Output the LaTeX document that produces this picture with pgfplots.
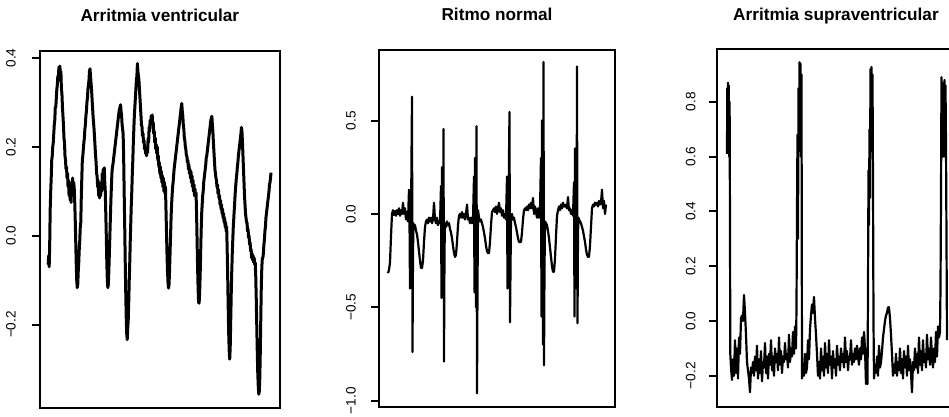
\documentclass[border=0pt]{standalone}
\usepackage{fontspec}
\setmainfont{Liberation Sans}
\usepackage{pgfplots}
\pgfplotsset{compat=1.18}
\pgfplotsset{
  ecg/.style={
    scale only axis,
    axis line style={line width=1pt},
    xtick=\empty,
    ytick pos=left,
    tick align=outside,
    major tick length=4pt,
    major tick style={line width=1pt, black},
    yticklabel style={rotate=90, anchor=south, inner sep=0pt, font=\fontsize{6.8}{8}\selectfont},
    title style={at={(0.5,1)}, anchor=base, inner sep=0pt, font=\bfseries\fontsize{8.6}{10}\selectfont},
  },
  trace/.style={black, line width=1.1pt, line join=round, mark=none},
}
\begin{document}
\begin{tikzpicture}
% ---------- Panel 1 ----------
\begin{axis}[ecg,
  at={(20pt,4.5pt)}, anchor=south west,
  width=117.5pt, height=178.5pt,
  xmin=40, xmax=275, ymin=-0.388, ymax=0.416,
  ytick={-0.2,0,0.2,0.4}, yticklabels={−0.2,0.0,0.2,0.4},
  yticklabel shift=7.9pt,
  title={Arritmia ventricular}, title style={yshift=8.75pt}]
\addplot[trace, line width=1.5pt] table {
x y
48 -0.065
48.5 -0.045
49 -0.07
49.5 -0.02
50 0.06
50.5 0.10
51 0.13
51.5 0.17
52 0.18
52.5 0.20
53 0.21
53.5 0.23
54 0.25
54.5 0.26
55 0.29
55.5 0.29
56 0.31
56.5 0.33
57 0.34
57.5 0.36
58 0.35
58.5 0.38
59 0.36
59.5 0.382
60 0.36
60.5 0.37
61 0.33
61.5 0.32
62 0.29
62.5 0.27
63 0.25
63.5 0.22
64 0.21
64.5 0.18
65 0.17
65.5 0.15
66 0.155
66.5 0.13
67 0.14
67.5 0.11
68 0.125
68.5 0.09
69 0.12
69.5 0.08
70 0.11
70.5 0.075
71 0.12
71.5 0.09
72 0.13
72.5 0.10
73 0.12
73.5 0.11
74 0.08
74.5 0.04
75 -0.01
75.5 -0.06
76 -0.10
76.5 -0.117
77 -0.11
77.5 -0.08
78 -0.06
78.5 -0.03
79 -0.01
79.5 0.02
80 0.03
80.5 0.09
81 0.13
81.5 0.17
82 0.18
83 0.21
83.5 0.22
84 0.24
84.5 0.25
85 0.27
85.5 0.28
86 0.30
86.5 0.31
87 0.33
87.5 0.34
88 0.35
88.5 0.37
89 0.376
89.5 0.36
90 0.345
90.5 0.33
91 0.31
91.5 0.29
92 0.27
92.5 0.255
93 0.24
93.5 0.22
94 0.20
94.5 0.18
95 0.165
95.5 0.14
96 0.135
96.5 0.11
97 0.125
97.5 0.09
98 0.11
98.5 0.085
99 0.10
99.5 0.09
100 0.12
100.5 0.10
101 0.14
101.5 0.12
102 0.15
102.5 0.13
103 0.153
103.5 0.12
104 0.10
104.5 0.05
105 0.0
105.5 -0.06
106 -0.10
106.5 -0.117
107 -0.11
107.5 -0.08
108 -0.04
108.5 0.0
109 0.04
109.5 0.08
110 0.11
110.5 0.14
111 0.155
111.5 0.16
112 0.17
112.5 0.18
113 0.19
113.5 0.20
114 0.21
114.5 0.22
115 0.23
115.5 0.24
116 0.25
116.5 0.26
117 0.27
117.5 0.28
118 0.285
118.5 0.29
119 0.295
119.5 0.28
120 0.27
120.5 0.25
121 0.24
121.5 0.23
122 0.18
122.5 0.10
123 0.03
123.5 -0.05
124 -0.12
124.5 -0.18
125 -0.22
125.5 -0.234
126 -0.21
126.5 -0.19
127 -0.15
127.5 -0.10
128 -0.06
128.5 -0.01
129 0.03
129.5 0.07
130 0.10
130.5 0.14
131 0.17
131.5 0.21
132 0.24
132.5 0.27
133 0.29
133.5 0.31
134 0.33
134.5 0.35
135 0.36
135.5 0.388
136 0.37
136.5 0.36
137 0.35
137.5 0.33
138 0.31
138.5 0.29
139 0.27
139.5 0.25
140 0.245
140.5 0.225
141 0.23
141.5 0.21
142 0.215
142.5 0.195
143 0.20
143.5 0.185
144 0.19
144.5 0.18
145 0.20
145.5 0.187
146 0.22
146.5 0.21
147 0.245
147.5 0.235
148 0.26
148.5 0.25
149 0.27
149.5 0.255
150 0.272
150.5 0.25
151 0.255
151.5 0.23
152 0.235
152.5 0.21
153 0.22
153.5 0.195
154 0.205
154.5 0.185
155 0.20
155.5 0.17
156 0.18
156.5 0.155
157 0.165
157.5 0.14
158 0.155
158.5 0.13
159 0.145
159.5 0.12
160 0.135
160.5 0.11
161 0.13
161.5 0.10
162 0.12
162.5 0.095
163 0.11
163.5 0.06
164 0.01
164.5 -0.04
165 -0.08
165.5 -0.105
166 -0.118
166.5 -0.11
167 -0.08
167.5 -0.04
168 0.0
168.5 0.04
169 0.07
169.5 0.09
170 0.11
170.5 0.12
171 0.135
171.5 0.15
172 0.16
172.5 0.17
173 0.18
173.5 0.19
174 0.20
174.5 0.21
175 0.22
175.5 0.23
176 0.24
176.5 0.25
177 0.26
177.5 0.27
178 0.28
178.5 0.29
179 0.298
179.5 0.28
180 0.27
180.5 0.25
181 0.24
181.5 0.22
182 0.215
182.5 0.20
183 0.195
183.5 0.18
184 0.18
184.5 0.165
185 0.17
185.5 0.15
186 0.16
186.5 0.14
187 0.15
187.5 0.13
188 0.145
188.5 0.12
189 0.135
189.5 0.11
190 0.125
190.5 0.10
191 0.115
191.5 0.09
192 0.105
192.5 0.09
193 0.097
193.5 0.05
194 -0.01
194.5 -0.07
195 -0.12
195.5 -0.15
196 -0.152
196.5 -0.13
197 -0.09
197.5 -0.04
198 0.01
198.5 0.05
199 0.07
199.5 0.09
200 0.10
200.5 0.12
201 0.13
201.5 0.14
202 0.15
202.5 0.16
203 0.175
203.5 0.18
204 0.19
204.5 0.20
205 0.21
205.5 0.22
206 0.23
206.5 0.24
207 0.25
207.5 0.26
208 0.265
208.5 0.269
209 0.25
209.5 0.235
210 0.21
210.5 0.19
211 0.17
211.5 0.15
212 0.14
212.5 0.13
213 0.125
213.5 0.11
214 0.115
214.5 0.095
215 0.104
215.5 0.085
216 0.09
216.5 0.07
217 0.08
217.5 0.06
218 0.07
218.5 0.05
219 0.06
219.5 0.04
220 0.05
220.5 0.03
221 0.04
221.5 0.02
222 0.03
222.5 0.01
223 0.02
223.5 -0.03
224 -0.09
224.5 -0.16
225 -0.22
225.5 -0.26
226 -0.278
226.5 -0.25
227 -0.19
227.5 -0.13
228 -0.08
228.5 -0.04
229 -0.01
229.5 0.02
230 0.04
230.5 0.06
231 0.08
231.5 0.10
232 0.115
232.5 0.13
233 0.14
233.5 0.155
234 0.165
234.5 0.18
235 0.19
235.5 0.20
236 0.21
236.5 0.22
237 0.23
237.5 0.244
238 0.235
238.5 0.21
239 0.18
239.5 0.15
240 0.12
240.5 0.09
241 0.07
241.5 0.05
242 0.04
242.5 0.03
243 0.029
243.5 0.01
244 0.015
244.5 -0.005
245 0.0
245.5 -0.02
246 -0.015
246.5 -0.035
247 -0.03
247.5 -0.05
248 -0.04
248.5 -0.055
249 -0.045
249.5 -0.06
250 -0.05
250.5 -0.065
251 -0.06
251.5 -0.09
252 -0.14
252.5 -0.20
253 -0.26
253.5 -0.31
254 -0.34
254.5 -0.357
255 -0.35
255.5 -0.32
256 -0.26
256.5 -0.18
257 -0.11
257.5 -0.07
258 -0.05
258.5 -0.05
259 -0.04
259.5 -0.02
260 -0.01
260.5 0.01
261 0.02
261.5 0.04
262 0.05
262.5 0.06
263 0.07
263.5 0.08
264 0.09
264.5 0.10
265 0.115
265.5 0.12
266 0.13
266.5 0.142
};
\end{axis}
% ---------- Panel 2 ----------
\begin{axis}[ecg,
  at={(189.5pt,5pt)}, anchor=south west,
  width=118pt, height=178.5pt,
  xmin=379, xmax=615, ymin=-1.034, ymax=0.878,
  ytick={-1,-0.5,0,0.5}, yticklabels={−1.0,−0.5,0.0,0.5},
  yticklabel shift=7.4pt,
  title={Ritmo normal}, title style={yshift=8.6pt}]
\addplot[trace] table {
x y
388 -0.317
389 -0.30
390 -0.26
391 -0.12
392 0.0
393 0.02
394 -0.005
395 0.015
396 -0.01
397 0.02
398 0.0
399 0.03
400 -0.01
401 0.02
402 0.0
403 0.06
404 0.0
405 0.03
406 -0.03
407 0.01
408 -0.04
409 0.13
409.5 -0.03
410 -0.4
410.5 0.1
411 -0.06
411.5 0.3
412 0.628
412.5 -0.74
413 -0.2
413.5 -0.05
414 -0.07
415 -0.06
416 -0.09
417 -0.11
418 -0.15
419 -0.20
420 -0.25
421 -0.29
422 -0.29
423 -0.25
424 -0.15
425 -0.07
426 -0.04
427 -0.03
428 -0.05
429 -0.02
430 -0.04
431 -0.02
432 -0.05
433 -0.03
434 0.06
435 -0.03
436 -0.05
437 -0.02
438 -0.06
439 -0.04
440 -0.05
441 0.15
441.5 -0.45
442 0.25
442.5 -0.1
443 -0.3
443.5 0.455
444 -0.79
444.5 -0.2
445 -0.05
446 -0.07
447 -0.04
448 -0.06
449 -0.05
450 -0.08
451 -0.10
452 -0.13
453 -0.17
454 -0.21
455 -0.23
456 -0.22
457 -0.15
458 -0.06
459 -0.01
460 0.0
461 -0.02
462 0.01
463 -0.02
464 0.0
465 -0.03
466 0.0
467 0.05
468 -0.03
469 -0.02
470 -0.05
471 -0.02
472 -0.05
473 -0.03
474 0.2
474.5 -0.42
475 0.3
475.5 -0.1
476 -0.5
476.5 0.47
477 -0.96
477.5 -0.4
478 0.02
479 -0.02
480 -0.04
481 -0.03
482 -0.05
483 -0.07
484 -0.10
485 -0.13
486 -0.17
487 -0.20
488 -0.21
489 -0.21
490 -0.15
491 -0.06
492 0.01
493 0.02
494 0.03
495 0.01
496 0.04
497 0.0
498 0.03
499 0.06
500 0.01
501 0.03
502 -0.01
503 0.02
504 -0.02
505 0.0
506 -0.03
507 0.2
507.5 -0.4
508 0.15
508.5 -0.3
509 0.3
509.5 0.546
510 -0.58
510.5 -0.3
511 -0.02
512 0.0
513 -0.03
514 -0.02
515 -0.05
516 -0.07
517 -0.10
518 -0.13
519 -0.15
520 -0.15
521 -0.15
522 -0.10
523 -0.03
524 0.02
525 0.03
526 0.02
527 0.04
528 0.02
529 0.05
530 0.03
531 0.06
532 0.03
533 0.085
534 0.0
535 0.04
536 0.01
537 -0.02
538 0.03
539 -0.02
540 0.02
541 0.3
541.5 -0.55
542 0.5
542.5 -0.2
543 -0.7
543.5 0.814
544 -0.81
544.5 -0.3
545 -0.04
546 -0.05
547 -0.06
548 -0.09
549 -0.13
550 -0.18
551 -0.23
552 -0.28
553 -0.31
554 -0.31
555 -0.24
556 -0.12
557 -0.01
558 0.02
559 0.04
560 0.02
561 0.05
562 0.03
563 0.06
564 0.04
565 0.04
566 0.05
567 0.03
568 0.09
569 0.02
570 0.03
571 0.0
572 0.02
573 -0.01
574 0.17
574.5 -0.55
575 0.35
575.5 -0.2
576 0.1
576.5 -0.4
577 0.79
577.5 -0.585
578 -0.1
578.5 -0.02
579 -0.03
580 -0.04
581 -0.05
582 -0.07
583 -0.09
584 -0.12
585 -0.15
586 -0.19
587 -0.22
588 -0.23
589 -0.23
590 -0.17
591 -0.07
592 0.03
593 0.05
594 0.04
595 0.06
596 0.05
597 0.06
598 0.04
599 0.07
600 0.05
601 0.06
602 0.13
603 0.03
604 0.07
605 0.0
606 0.05
};
\end{axis}
% ---------- Panel 3 ----------
\begin{axis}[ecg,
  at={(358.5pt,5pt)}, anchor=south west,
  width=119pt, height=179pt,
  xmin=717, xmax=955, ymin=-0.314, ymax=0.993,
  ytick={-0.2,0,0.2,0.4,0.6,0.8}, yticklabels={−0.2,0.0,0.2,0.4,0.6,0.8},
  yticklabel shift=6.5pt,
  title={Arritmia supraventricular}, title style={yshift=8.2pt}]
\addplot[trace] table {
x y
727 0.61
727.3 0.85
727.6 0.62
728 0.87
728.4 0.63
728.8 0.86
729.2 0.60
729.6 0.80
730 0.34
730.3 -0.12
731 -0.17
732 -0.215
733 -0.14
734 -0.20
735 -0.07
736 -0.19
737 -0.10
738 -0.21
739 -0.06
740 -0.12
741 0.01
742 0.02
743 0.00
744 0.095
745 0.03
746 -0.05
747 -0.15
748 -0.18
749 -0.21
750 -0.26
751 -0.17
752 -0.19
753 -0.15
754 -0.20
755 -0.13
756 -0.18
757 -0.09
758 -0.21
759 -0.14
760 -0.19
761 -0.11
762 -0.22
763 -0.15
764 -0.17
765 -0.08
766 -0.19
767 -0.13
768 -0.21
769 -0.12
770 -0.16
771 -0.07
772 -0.18
773 -0.13
774 -0.20
775 -0.10
776 -0.15
777 -0.12
778 -0.18
779 -0.06
780 -0.16
781 -0.11
782 -0.19
783 -0.13
784 -0.15
785 -0.08
786 -0.14
787 -0.12
788 -0.17
789 -0.05
790 -0.15
791 -0.10
792 -0.13
793 -0.04
794 -0.12
795 -0.02
796 -0.10
796.5 0.05
797 0.40
797.5 0.68
798 0.30
798.5 0.85
799 0.62
799.5 0.945
800 0.68
800.5 0.94
801 0.60
801.5 0.90
802 -0.21
803 -0.16
804 -0.20
805 -0.12
806 -0.19
807 -0.17
808 -0.07
809 -0.14
810 -0.03
811 0.02
812 0.06
813 0.03
814 0.088
815 0.01
816 -0.05
817 -0.12
818 -0.20
819 -0.15
820 -0.21
821 -0.10
822 -0.18
823 -0.13
824 -0.20
825 -0.08
826 -0.17
827 -0.12
828 -0.19
829 -0.07
830 -0.16
831 -0.13
832 -0.21
833 -0.11
834 -0.17
835 -0.14
836 -0.20
837 -0.09
838 -0.16
839 -0.13
840 -0.18
841 -0.10
842 -0.15
843 -0.12
844 -0.17
845 -0.06
846 -0.15
847 -0.11
848 -0.18
849 -0.13
850 -0.14
851 -0.07
852 -0.16
853 -0.12
854 -0.15
855 -0.10
856 -0.14
857 -0.09
858 -0.13
859 -0.16
860 -0.10
861 -0.14
862 -0.06
863 -0.12
864 -0.04
865 -0.10
866 -0.23
867 -0.10
867.5 -0.23
868 0.10
868.5 0.55
869 0.35
869.5 0.70
870 0.45
870.5 0.92
871 0.66
871.5 0.927
872 0.62
872.5 0.90
873 0.50
873.5 0.0
874 -0.21
875 -0.16
876 -0.19
877 -0.13
878 -0.20
879 -0.09
880 -0.17
881 -0.15
882 -0.11
883 -0.06
884 -0.03
885 0.0
886 0.02
887 0.03
888 0.05
889 0.05
890 0.01
891 -0.05
892 -0.12
893 -0.20
894 -0.16
895 -0.19
896 -0.12
897 -0.20
898 -0.15
899 -0.18
900 -0.10
901 -0.19
902 -0.14
903 -0.21
904 -0.11
905 -0.17
906 -0.13
907 -0.20
908 -0.09
909 -0.18
910 -0.14
911 -0.19
912 -0.26
913 -0.15
914 -0.18
915 -0.10
916 -0.17
917 -0.12
918 -0.19
919 -0.06
920 -0.16
921 -0.11
922 -0.18
923 -0.07
924 -0.15
925 -0.12
926 -0.17
927 -0.05
928 -0.14
929 -0.10
930 -0.16
931 -0.06
932 -0.13
933 -0.17
934 -0.10
935 -0.15
936 -0.04
937 -0.13
938 -0.02
939 -0.06
940 -0.04
940.5 0.12
941 0.45
941.5 0.89
942 0.62
942.5 0.87
943 0.60
943.5 0.85
944 0.62
944.5 0.88
945 0.60
945.5 0.86
946 0.65
946.5 0.30
947 -0.07
};
\end{axis}
\pgfresetboundingbox
\useasboundingbox (0,0) rectangle (474.5pt,208.5pt);
\end{tikzpicture}
\end{document}
